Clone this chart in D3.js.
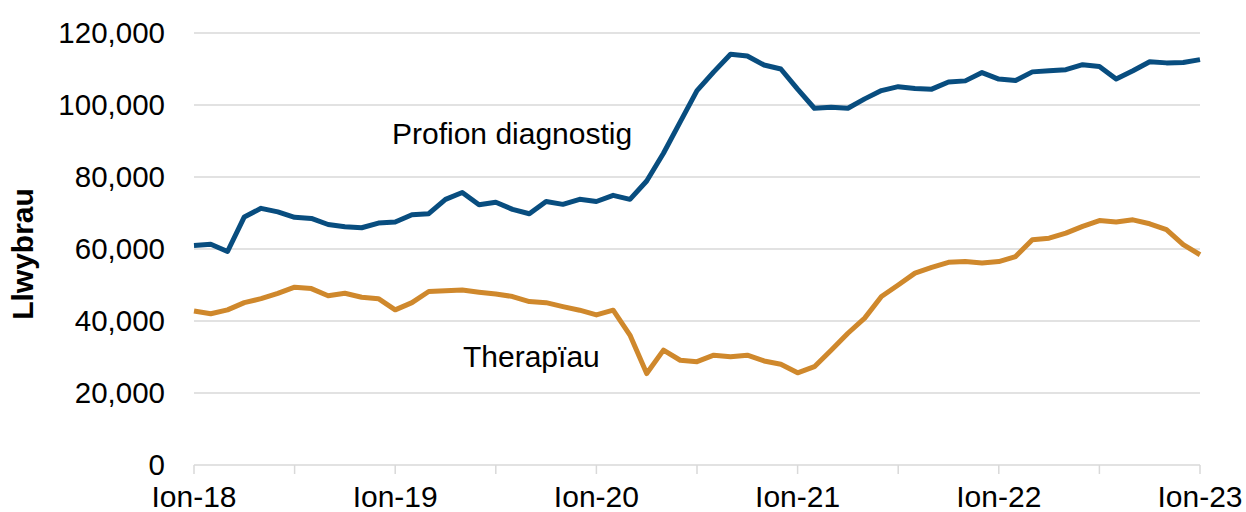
<!DOCTYPE html>
<html>
<head>
<meta charset="utf-8">
<script src="https://cdn.jsdelivr.net/npm/d3@7"></script>
<style>
  body { margin: 0; background: #fff; }
  text { font-family: "Liberation Sans", Arial, sans-serif; fill: #000; }
</style>
</head>
<body>
<div id="chart"></div>
<script>
const width = 1246, height = 512;
const margin = {top: 33, right: 46, bottom: 48, left: 194};

// monthly values, Jan-18 .. Jan-23
const diagnostig = [
  61000, 61300, 59300, 68900, 71300, 70300, 68800, 68500, 66800, 66200,
  65900, 67200, 67500, 69500, 69800, 73800, 75700, 72300, 73000, 71000,
  69800, 73200, 72400, 73800, 73200, 74900, 73800, 78900, 86600, 95300,
  104000, 109200, 114100, 113600, 111100, 110000, 104400, 99100, 99400, 99100,
  101700, 104000, 105100, 104600, 104400, 106400, 106700, 109000, 107200, 106800,
  109200, 109500, 109800, 111200, 110700, 107200, 109500, 112000, 111700, 111800,
  112600
];
const therapiau = [
  42800, 42000, 43100, 45100, 46200, 47700, 49400, 49000, 47000, 47700,
  46600, 46200, 43100, 45100, 48200, 48400, 48600, 48000, 47500, 46800,
  45400, 45100, 44000, 43000, 41700, 43000, 36100, 25400, 31900, 29100,
  28700, 30500, 30100, 30500, 28900, 28000, 25600, 27300, 31900, 36600,
  40800, 46800, 50000, 53300, 54900, 56300, 56500, 56100, 56500, 57900,
  62600, 63000, 64400, 66300, 67900, 67500, 68100, 67000, 65400, 61200,
  58400
];
const yTicks = [0, 20000, 40000, 60000, 80000, 100000, 120000];
const xLabels = ["Ion-18", "Ion-19", "Ion-20", "Ion-21", "Ion-22", "Ion-23"];
const seriesNames = ["Profion diagnostig", "Therapïau"];
const yTitle = "Llwybrau";

const svg = d3.select("#chart").append("svg").attr("width", width).attr("height", height);

const x = d3.scaleLinear().domain([0, 60]).range([margin.left, width - margin.right]);
const y = d3.scaleLinear().domain([0, 120000]).range([height - margin.bottom + 1, margin.top]);

// gridlines
svg.append("g").selectAll("line")
  .data(yTicks)
  .join("line")
  .attr("x1", x(0)).attr("x2", x(60))
  .attr("y1", d => y(d)).attr("y2", d => y(d))
  .attr("stroke", "#d9d9d9").attr("stroke-width", 1.5);

// y axis labels
const fmt = d3.format(",");
svg.append("g").selectAll("text")
  .data(yTicks)
  .join("text")
  .attr("x", 165).attr("y", d => y(d))
  .attr("dy", "0.35em")
  .attr("text-anchor", "end")
  .style("font-size", "29.5px")
  .text(d => fmt(d));

// x axis ticks every 6 months
svg.append("g").selectAll("line")
  .data(d3.range(0, 61, 6))
  .join("line")
  .attr("x1", d => x(d)).attr("x2", d => x(d))
  .attr("y1", y(0)).attr("y2", y(0) + 9)
  .attr("stroke", "#d9d9d9").attr("stroke-width", 1.5);

svg.append("g").selectAll("text")
  .data(xLabels)
  .join("text")
  .attr("x", (d, i) => x(i * 12))
  .attr("y", 507)
  .attr("text-anchor", "middle")
  .style("font-size", "30px")
  .text(d => d);

// y title
svg.append("text")
  .attr("transform", `translate(33, 254) rotate(-90)`)
  .attr("text-anchor", "middle")
  .style("font-size", "30px")
  .style("font-weight", "bold")
  .text(yTitle);

// lines
const line = d3.line().x((d, i) => x(i)).y(d => y(d));
svg.append("path").datum(therapiau)
  .attr("d", line).attr("fill", "none")
  .attr("stroke", "#cf882c").attr("stroke-width", 5)
  .attr("stroke-linejoin", "round");
svg.append("path").datum(diagnostig)
  .attr("d", line).attr("fill", "none")
  .attr("stroke", "#084d7f").attr("stroke-width", 5)
  .attr("stroke-linejoin", "round");

// series labels
svg.append("text").attr("x", 392).attr("y", 144)
  .style("font-size", "30px").text(seriesNames[0]);
svg.append("text").attr("x", 463).attr("y", 367)
  .style("font-size", "30px").text(seriesNames[1]);
</script>
</body>
</html>
